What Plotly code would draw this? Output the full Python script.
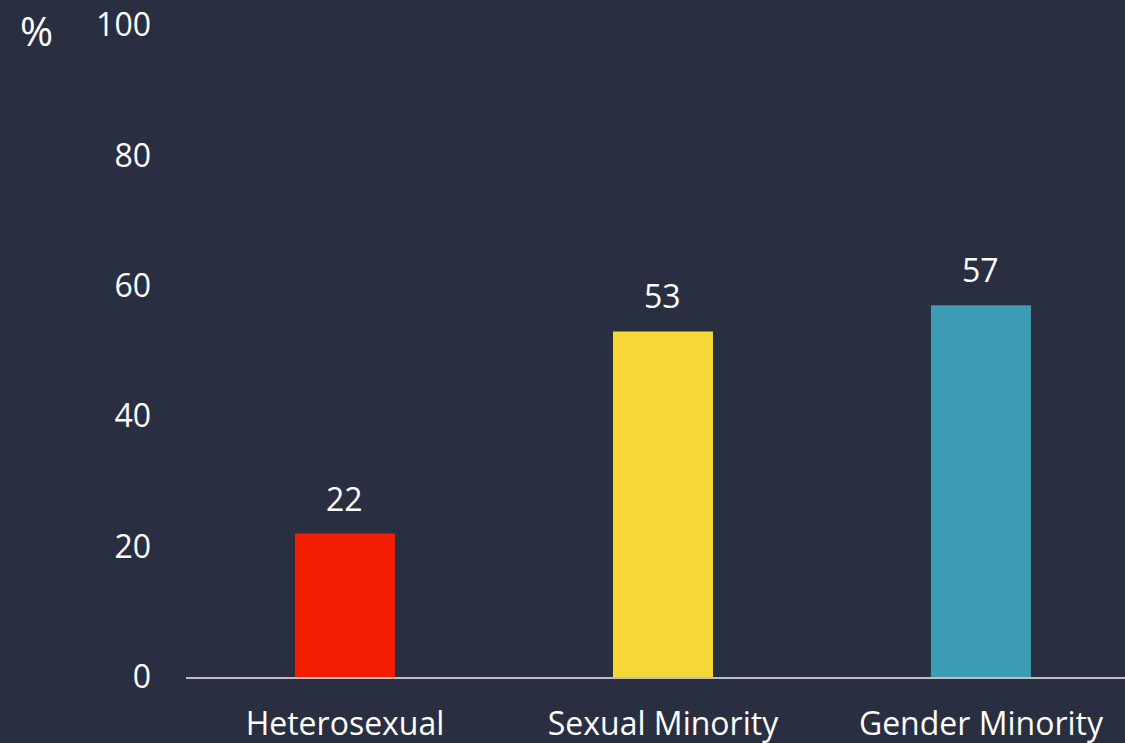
import plotly.graph_objects as go

categories = ["Heterosexual", "Sexual Minority", "Gender Minority"]
values = [22, 53, 57]
colors = ["#f21d00", "#f5d836", "#3d9bb4"]
y_ticks = [0, 20, 40, 60, 80, 100]

BG = "#292e41"
FONT = "Open Sans"
FS = 32

fig = go.Figure()
fig.add_trace(go.Bar(
    x=categories, y=values, marker=dict(color=colors, line=dict(width=0)),
    width=0.3145, hoverinfo="skip",
))

for c, v in zip(categories, values):
    fig.add_annotation(x=c, y=v, text=str(v), showarrow=False, yanchor="bottom",
                       yshift=12, font=dict(family=FONT, size=FS, color="white"))

fig.add_annotation(xref="x domain", yref="y domain",
                   x=-(186 - 36) / 939, y=1 + (25 - 31) / 652,
                   xanchor="center", yanchor="middle", text="%", showarrow=False,
                   font=dict(family=FONT, size=40, color="white"))

fig.update_layout(
    width=1125, height=743,
    paper_bgcolor=BG, plot_bgcolor=BG,
    margin=dict(l=186, r=0, t=25, b=66, autoexpand=False),
    showlegend=False,
    font=dict(family=FONT, size=FS, color="white"),
    xaxis=dict(range=[-0.5, 2.453], showline=True, linecolor="#bfbfbf", linewidth=2,
               showgrid=False, zeroline=False, ticks="", ticklabelstandoff=18,
               automargin=False,
               tickfont=dict(family=FONT, size=FS, color="white")),
    yaxis=dict(range=[0, 100], tickvals=y_ticks, showgrid=False, zeroline=False,
               showline=False, ticks="", ticklabelstandoff=34, automargin=False,
               tickfont=dict(family=FONT, size=FS, color="white")),
)

fig.write_html("out.html", config={"displayModeBar": False},
               post_script="document.body.style.margin='0';document.body.style.background='" + BG + "';")
